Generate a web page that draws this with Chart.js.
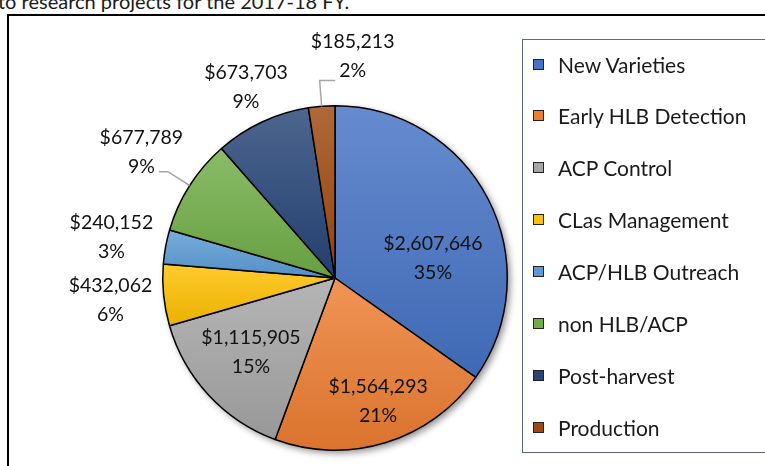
<!DOCTYPE html>
<html>
<head>
<meta charset="utf-8">
<script src="https://cdn.jsdelivr.net/npm/chart.js@4.4.0/dist/chart.umd.min.js"></script>
<style>
  html, body { margin: 0; padding: 0; background: #fff; overflow: hidden; }
  body { width: 765px; height: 466px; position: relative; font-family: Lato, sans-serif; }
  #caption { position: absolute; left: -2px; top: -11px; font-size: 20px; color: #1a1a1a; white-space: nowrap; }
  #frame { position: absolute; left: 7px; top: 14px; width: 820px; height: 520px; border: 2px solid #000; }
  #chart { position: absolute; left: 0; top: 0; }
  #legend { position: absolute; left: 522px; top: 39px; width: 320px; height: 412px; border: 1.5px solid #5f6b7d; }
  .item { position: absolute; left: 10px; height: 20px; display: flex; align-items: center; font-size: 21px; color: #1a1a1a; white-space: nowrap; }
  .sw { width: 9px; height: 9px; border: 1.5px solid #222; margin-right: 14px; }
</style>
</head>
<body>
<div id="caption">to research projects for the 2017-18 FY.</div>
<div id="frame"></div>
<canvas id="chart" width="765" height="466"></canvas>
<div id="legend"></div>
<script>
// research funding by category
const categories = ['New Varieties', 'Early HLB Detection', 'ACP Control', 'CLas Management',
                    'ACP/HLB Outreach', 'non HLB/ACP', 'Post-harvest', 'Production'];
const amounts = [2607646, 1564293, 1115905, 432062, 240152, 677789, 673703, 185213];
const sliceColors = ['#4472C4', '#ED7D31', '#A5A5A5', '#FFC000', '#5B9BD5', '#70AD47', '#264478', '#9E480E'];

// where each data label sits: fraction of radius along the slice, turn in degrees
const labelPlace = [
  { k: 0.58, turn: 16 }, { k: 0.76, turn: -2 }, { k: 0.65, turn: 1.5 }, { k: 1.31, turn: 0 },
  { k: 1.32, turn: 0 }, { k: 1.34, turn: 0.5 }, { k: 1.22, turn: 0 }, { k: 1.29, turn: 9 }
];
const leaderLines = [false, false, false, false, false, true, false, true];

const total = amounts.reduce((a, b) => a + b, 0);
const money = v => '$' + v.toLocaleString('en-US');
const pct = v => Math.round(v / total * 100) + '%';

function mix(hex, other, t) {
  const p = h => [1, 3, 5].map(j => parseInt(h.substr(j, 2), 16));
  const a = p(hex), b = p(other);
  return 'rgb(' + a.map((v, j) => Math.round(v + (b[j] - v) * t)).join(',') + ')';
}

// vertical gradient over each slice's own bounds, like the office style
function sliceGradient(c) {
  const chart = c.chart, area = chart.chartArea, i = c.dataIndex;
  const base = sliceColors[i];
  if (!area) return base;
  const cx = (area.left + area.right) / 2, cy = (area.top + area.bottom) / 2;
  const r = Math.min(area.width, area.height) / 2;
  let before = 0;
  for (let j = 0; j < i; j++) before += amounts[j];
  const start = -Math.PI / 2 + before / total * 2 * Math.PI;
  const end = start + amounts[i] / total * 2 * Math.PI;
  const ys = [cy, cy + r * Math.sin(start), cy + r * Math.sin(end)];
  for (const k of [-Math.PI / 2, Math.PI / 2, 3 * Math.PI / 2]) {
    if (k >= start && k <= end) ys.push(cy + r * Math.sin(k));
  }
  const g = chart.ctx.createLinearGradient(0, Math.min(...ys), 0, Math.max(...ys));
  g.addColorStop(0, mix(base, '#ffffff', 0.18));
  g.addColorStop(1, mix(base, '#000000', 0.08));
  return g;
}

const pieShadow = {
  id: 'pieShadow',
  beforeDatasetsDraw(chart) {
    const arc = chart.getDatasetMeta(0).data[0];
    if (!arc) return;
    const ctx = chart.ctx;
    ctx.save();
    ctx.shadowColor = 'rgba(0,0,0,0.45)';
    ctx.shadowBlur = 7;
    ctx.shadowOffsetX = 3;
    ctx.shadowOffsetY = 3;
    ctx.beginPath();
    ctx.arc(arc.x, arc.y, arc.outerRadius, 0, Math.PI * 2);
    ctx.fillStyle = '#fff';
    ctx.fill();
    ctx.restore();
  }
};

const sliceLabels = {
  id: 'sliceLabels',
  afterDatasetsDraw(chart) {
    const ctx = chart.ctx;
    ctx.save();
    ctx.font = '19.5px Lato';
    ctx.textAlign = 'center';
    ctx.textBaseline = 'middle';
    chart.getDatasetMeta(0).data.forEach((arc, i) => {
      const { x, y, startAngle, endAngle, outerRadius } = arc.getProps(['x', 'y', 'startAngle', 'endAngle', 'outerRadius'], true);
      const mid = (startAngle + endAngle) / 2;
      const place = labelPlace[i];
      const a = mid + place.turn * Math.PI / 180;
      const lx = x + Math.cos(a) * outerRadius * place.k;
      const ly = y + Math.sin(a) * outerRadius * place.k;
      const line1 = money(amounts[i]), line2 = pct(amounts[i]);
      if (leaderLines[i]) {
        const p0x = x + Math.cos(mid) * outerRadius, p0y = y + Math.sin(mid) * outerRadius;
        const p1x = x + Math.cos(mid) * outerRadius * 1.15, p1y = y + Math.sin(mid) * outerRadius * 1.15;
        const w2 = ctx.measureText(line2).width;
        const endX = lx > p1x ? lx - w2 / 2 - 4 : lx + w2 / 2 + 4;
        ctx.beginPath();
        ctx.moveTo(p0x, p0y);
        ctx.lineTo(p1x, p1y);
        ctx.lineTo(endX, p1y);
        ctx.strokeStyle = '#a6a6a6';
        ctx.lineWidth = 1.5;
        ctx.stroke();
      }
      ctx.fillStyle = '#111';
      ctx.fillText(line1, lx, ly - 14.5);
      ctx.fillText(line2, lx, ly + 14.5);
    });
    ctx.restore();
  }
};

new Chart(document.getElementById('chart'), {
  type: 'pie',
  data: {
    labels: categories,
    datasets: [{
      data: amounts,
      backgroundColor: sliceGradient,
      borderColor: '#000',
      borderWidth: 1.5
    }]
  },
  options: {
    responsive: false,
    animation: false,
    devicePixelRatio: 1,
    events: [],
    layout: { padding: { left: 162, top: 105, right: 257, bottom: 15 } },
    plugins: { legend: { display: false }, tooltip: { enabled: false } }
  },
  plugins: [pieShadow, sliceLabels]
});

// legend box on the right
const legend = document.getElementById('legend');
categories.forEach((name, i) => {
  const item = document.createElement('div');
  item.className = 'item';
  item.style.top = (14 + i * 51.9) + 'px';
  item.innerHTML = '<span class="sw" style="background:' + sliceColors[i] + '"></span>' + name;
  legend.appendChild(item);
});
</script>
</body>
</html>
